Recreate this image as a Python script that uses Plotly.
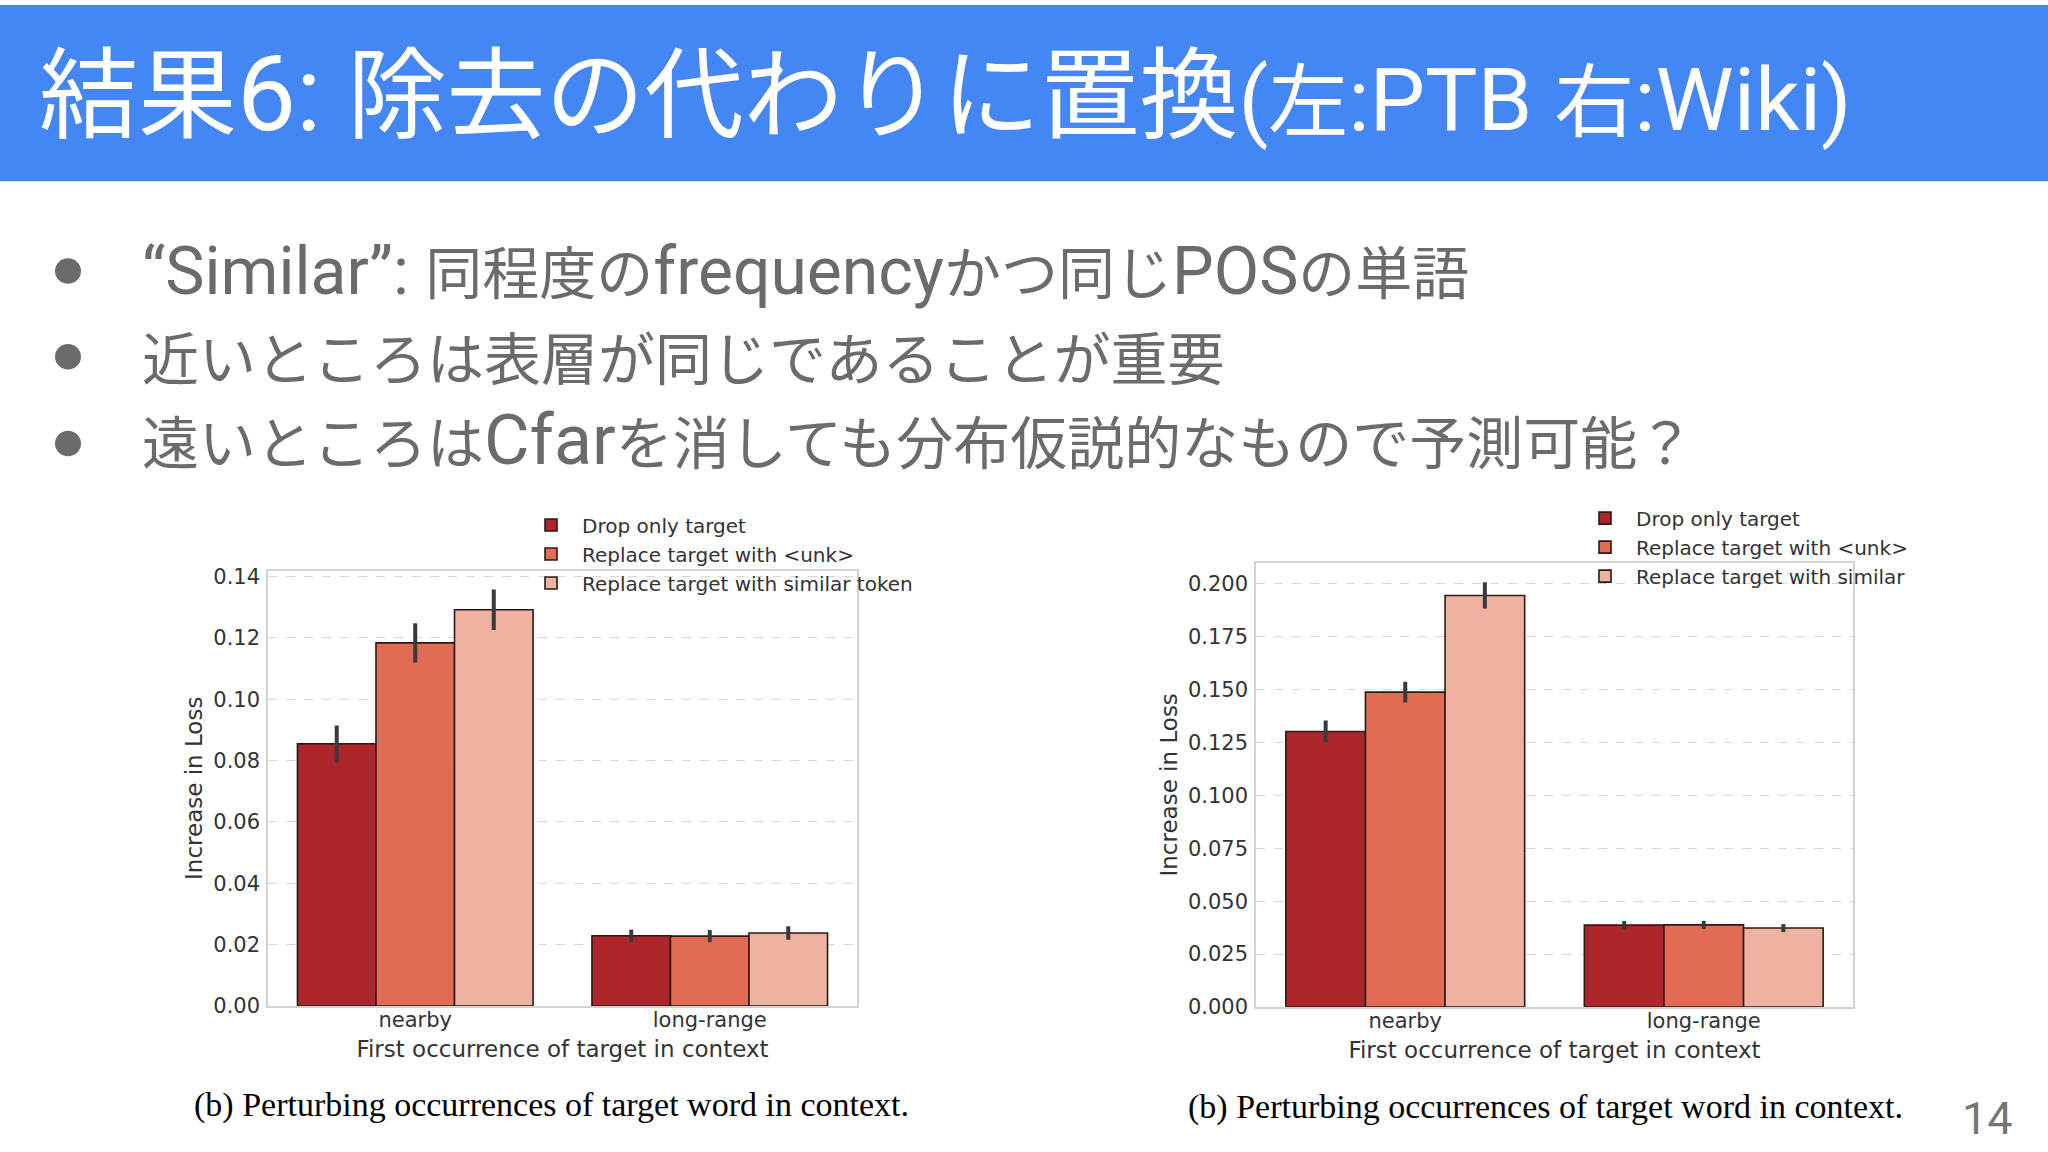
import plotly.graph_objects as go

# categories and series
categories = ["nearby", "long-range"]
series_ptb = ["Drop only target", "Replace target with <unk>", "Replace target with similar token"]
series_wiki = ["Drop only target", "Replace target with <unk>", "Replace target with similar"]

# PTB (left)
ptb_drop = [0.0855, 0.0229]
ptb_unk = [0.1184, 0.0228]
ptb_sim = [0.1292, 0.0238]
ptb_drop_err = [0.0060, 0.0020]
ptb_unk_err = [0.0064, 0.0020]
ptb_sim_err = [0.0066, 0.0022]

# Wiki (right)
wiki_drop = [0.1302, 0.0387]
wiki_unk = [0.1488, 0.0388]
wiki_sim = [0.1945, 0.0373]
wiki_drop_err = [0.0052, 0.0019]
wiki_unk_err = [0.0049, 0.0019]
wiki_sim_err = [0.0062, 0.0019]

bar_colors = ["#ae262c", "#e16c55", "#edb3a0"]
W, H = 2048, 1152


def px_x(v):
    return v / W


def px_y(v):
    return 1 - v / H


def latin(s, size):
    # latin runs are set a little larger (Roboto), like on the slide
    return f"<span style='font-family:Roboto;font-size:{size}px'>{s}</span>"


fig = go.Figure()

ptb_vals = [ptb_drop, ptb_unk, ptb_sim]
ptb_errs = [ptb_drop_err, ptb_unk_err, ptb_sim_err]
wiki_vals = [wiki_drop, wiki_unk, wiki_sim]
wiki_errs = [wiki_drop_err, wiki_unk_err, wiki_sim_err]

for i in range(3):
    fig.add_trace(go.Bar(
        x=categories, y=ptb_vals[i], name=series_ptb[i],
        marker=dict(color=bar_colors[i], line=dict(color="#2b1a17", width=1.6)),
        error_y=dict(type="data", array=ptb_errs[i], color="#3a3a3a", thickness=4, width=0),
        xaxis="x", yaxis="y", legend="legend", offsetgroup=str(i),
    ))
for i in range(3):
    fig.add_trace(go.Bar(
        x=categories, y=wiki_vals[i], name=series_wiki[i],
        marker=dict(color=bar_colors[i], line=dict(color="#2b1a17", width=1.6)),
        error_y=dict(type="data", array=wiki_errs[i], color="#3a3a3a", thickness=4, width=0),
        xaxis="x2", yaxis="y2", legend="legend2", offsetgroup=str(i),
    ))

chart_font = "DejaVu Sans"
tick_col = "#333333"
frame_col = "#d2d2d2"

xaxis_common = dict(
    range=[-0.5, 1.5], showgrid=False, showline=True, mirror=True,
    linecolor=frame_col, linewidth=1.5, ticks="", zeroline=False,
    ticklabelstandoff=-6,
    tickfont=dict(family=chart_font, size=21, color=tick_col),
    title=dict(text="First occurrence of target in context",
               font=dict(family=chart_font, size=23, color=tick_col), standoff=10),
)
yaxis_common = dict(
    showgrid=True, gridcolor="#d6d6d6", griddash="dash", gridwidth=1,
    showline=True, mirror=True, linecolor=frame_col, linewidth=1.5,
    ticks="", zeroline=False, ticklabelstandoff=2,
    tickfont=dict(family=chart_font, size=21, color=tick_col),
    title=dict(text="Increase in Loss",
               font=dict(family=chart_font, size=23, color=tick_col), standoff=4),
)

legend_common = dict(
    xanchor="left", yanchor="top", bgcolor="rgba(0,0,0,0)",
    font=dict(family=chart_font, size=20, color=tick_col),
    itemwidth=52, tracegroupgap=0,
)

fig.update_layout(
    width=W, height=H,
    margin=dict(l=0, r=0, t=0, b=0),
    paper_bgcolor="white", plot_bgcolor="white",
    barmode="group", bargap=0.2, bargroupgap=0,
    xaxis=dict(domain=[px_x(268), px_x(857)], anchor="y", **xaxis_common),
    yaxis=dict(domain=[px_y(1016), px_y(574)], anchor="x", range=[0, 0.142],
               dtick=0.02, tickformat=".2f", **yaxis_common),
    xaxis2=dict(domain=[px_x(1256), px_x(1853)], anchor="y2", **xaxis_common),
    yaxis2=dict(domain=[px_y(1017), px_y(566)], anchor="x2", range=[0, 0.21],
                dtick=0.025, tickformat=".3f", **yaxis_common),
    legend=dict(x=px_x(520), y=px_y(508), **legend_common),
    legend2=dict(x=px_x(1574), y=px_y(501), **legend_common),
)

# slide header bar
fig.add_shape(type="rect", xref="paper", yref="paper", x0=0, x1=1, y0=px_y(179), y1=1,
              fillcolor="#4486f4", line=dict(width=0), layer="below")

title_text = (
    "結果" + latin("6: ", 105) + "除去の代わりに置換"
    + latin("(", 87) + "<span style='font-size:80px'>左</span>" + latin(":PTB ", 88)
    + "<span style='font-size:80px'>右</span>" + latin(":Wiki)", 88)
)
fig.add_annotation(
    text=title_text,
    xref="paper", yref="paper", x=px_x(37), y=px_y(83), xanchor="left", yanchor="middle",
    showarrow=False, font=dict(family="Noto Sans CJK JP", size=99, color="white"),
)

# bullet points
bullets = [
    latin("“Similar”: ", 66) + "同程度の" + latin("frequency", 66) + "かつ同じ"
    + latin("POS", 66) + "の単語",
    "近いところは表層が同じであることが重要",
    "遠いところは" + latin("Cfar", 70) + "を消しても分布仮説的なもので予測可能？",
]
bullet_y = [268, 355, 441]
dot_y = [270, 357, 445]
for txt, yy, dy in zip(bullets, bullet_y, dot_y):
    fig.add_shape(type="circle", xref="paper", yref="paper",
                  x0=px_x(55), x1=px_x(81), y0=px_y(dy + 13), y1=px_y(dy - 13),
                  fillcolor="#6b6b6b", line=dict(width=0))
    fig.add_annotation(
        text=txt, xref="paper", yref="paper", x=px_x(140), y=px_y(yy),
        xanchor="left", yanchor="middle", showarrow=False,
        font=dict(family="Noto Sans CJK JP", size=57, color="#6b6b6b"),
    )

# captions under the two charts
for cx, cy in [(551, 1116), (1545, 1118)]:
    fig.add_annotation(
        text="(b) Perturbing occurrences of target word in context.",
        xref="paper", yref="paper", x=px_x(cx), y=px_y(cy),
        xanchor="center", yanchor="middle", showarrow=False,
        font=dict(family="Liberation Serif", size=34, color="black"),
    )

# page number
fig.add_annotation(text="14", xref="paper", yref="paper", x=px_x(1987), y=px_y(1130),
                   xanchor="center", yanchor="middle", showarrow=False,
                   font=dict(family="Roboto", size=45, color="#757575"))

page_css = (
    "var gd=document.getElementById('{plot_id}');"
    "gd.style.position='fixed';gd.style.left='0px';gd.style.top='0px';"
    "document.body.style.margin='0';"
    "document.body.style.overflow='hidden';"
    "document.documentElement.style.overflow='hidden';"
)
fig.write_html("out.html", config={"displayModeBar": False}, post_script=page_css)
